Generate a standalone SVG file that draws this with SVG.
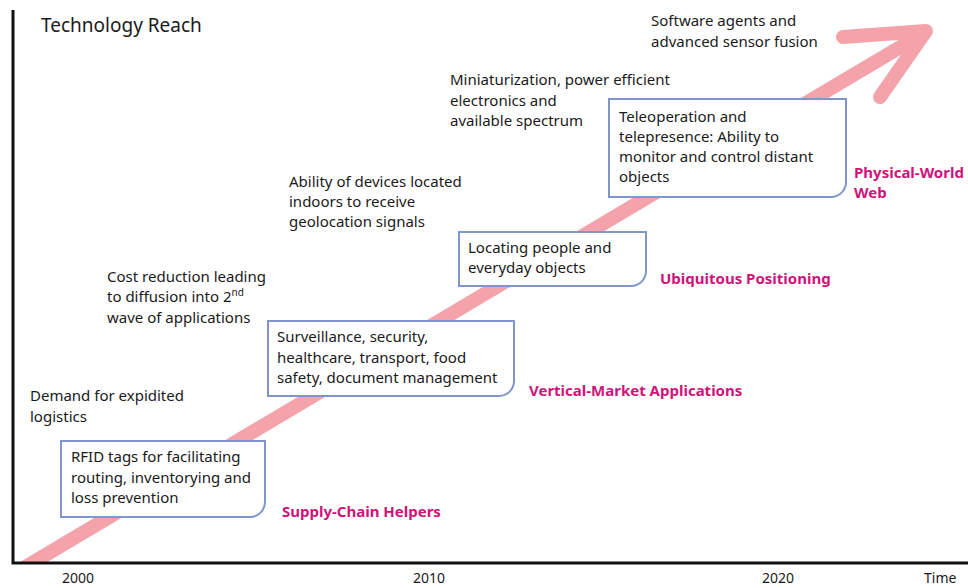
<svg xmlns="http://www.w3.org/2000/svg" width="968" height="588" viewBox="0 0 968 588">
<style>
text{font-family:"Noto Sans","Open Sans",sans-serif;font-size:15px;fill:#1a1a1a}
.t{font-size:19px}
.p{fill:#d0137a;font-weight:bold}
.yr{font-size:14px}
.box{fill:#fff;stroke:#7f96cc;stroke-width:2}
.arr{stroke:#f5a3aa;stroke-width:14;fill:none;stroke-linecap:round;stroke-linejoin:round}
</style>
<defs>
<clipPath id="plot"><rect x="13" y="0" width="955" height="562"/></clipPath>
</defs>
<rect width="968" height="588" fill="#fff"/>
<g id="connectors" clip-path="url(#plot)">
<path class="arr" d="M0,582 L924,33" style="stroke-linecap:butt"/>
<path class="arr" d="M843,37 L926,31 L880,97"/>
</g>
<g id="axes" stroke="#111" stroke-width="3" fill="none">
<path d="M13,10 V563 H968"/>
</g>
<text class="t" x="41" y="32">Technology Reach</text>
<g id="n1">
<path class="box" d="M61,441 H265 V502 A15,15 0 0 1 250,517 H61 Z"/>
<text x="71" y="462">RFID tags for facilitating</text>
<text x="71" y="483">routing, inventorying and</text>
<text x="71" y="503">loss prevention</text>
</g>
<g id="n2">
<path class="box" d="M268,321 H514 V381 A15,15 0 0 1 499,396 H268 Z"/>
<text x="277" y="342">Surveillance, security,</text>
<text x="277" y="363">healthcare, transport, food</text>
<text x="277" y="383">safety, document management</text>
</g>
<g id="n3">
<path class="box" d="M459,232 H646 V271 A15,15 0 0 1 631,286 H459 Z"/>
<text x="468" y="253">Locating people and</text>
<text x="468" y="273">everyday objects</text>
</g>
<g id="n4">
<path class="box" d="M609,99 H846 V182 A15,15 0 0 1 831,197 H609 Z"/>
<text x="619" y="122">Teleoperation and</text>
<text x="619" y="142">telepresence: Ability to</text>
<text x="619" y="162">monitor and control distant</text>
<text x="619" y="182">objects</text>
</g>
<g id="labels">
<text class="p" x="282" y="517">Supply-Chain Helpers</text>
<text class="p" x="529" y="396">Vertical-Market Applications</text>
<text class="p" x="660" y="284">Ubiquitous Positioning</text>
<text class="p" x="854" y="178">Physical-World</text>
<text class="p" x="854" y="198">Web</text>
</g>
<g id="drivers">
<text x="30" y="401">Demand for expidited</text>
<text x="30" y="422">logistics</text>
<text x="107" y="282">Cost reduction leading</text>
<text x="107" y="302">to diffusion into 2<tspan font-size="10" dy="-6">nd</tspan></text>
<text x="107" y="323">wave of applications</text>
<text x="289" y="187">Ability of devices located</text>
<text x="289" y="207">indoors to receive</text>
<text x="289" y="227">geolocation signals</text>
<text x="450" y="85">Miniaturization, power efficient</text>
<text x="450" y="106">electronics and</text>
<text x="450" y="126">available spectrum</text>
<text x="651" y="26">Software agents and</text>
<text x="651" y="47">advanced sensor fusion</text>
</g>
<g id="years">
<text class="yr" x="62" y="583">2000</text>
<text class="yr" x="413" y="583">2010</text>
<text class="yr" x="762" y="583">2020</text>
<text class="yr" x="924" y="583">Time</text>
</g>
</svg>
